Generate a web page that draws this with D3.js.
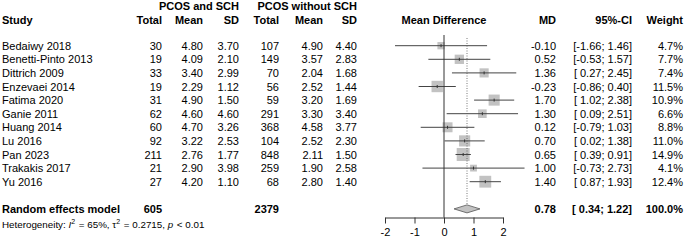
<!DOCTYPE html>
<html>
<head>
<meta charset="utf-8">
<script src="https://cdn.jsdelivr.net/npm/d3@7"></script>
<style>
  body { margin: 0; background: #fff; }
  svg text { font-family: "Liberation Sans", Arial, sans-serif; font-size: 11px; fill: #000; }
</style>
</head>
<body>
<div id="forest"></div>
<script>
const studies = ['Bedaiwy 2018', 'Benetti-Pinto 2013', 'Dittrich 2009', 'Enzevaei 2014', 'Fatima 2020',
  'Ganie 2011', 'Huang 2014', 'Lu 2016', 'Pan 2023', 'Trakakis 2017', 'Yu 2016'];
const totalSch = [30, 19, 33, 19, 31, 62, 60, 92, 211, 21, 27];
const meanSch = [4.80, 4.09, 3.40, 2.29, 4.90, 4.60, 4.70, 3.22, 2.76, 2.90, 4.20];
const sdSch = [3.70, 2.10, 2.99, 1.12, 1.50, 4.60, 3.26, 2.53, 1.77, 3.98, 1.10];
const totalCtl = [107, 149, 70, 56, 59, 291, 368, 104, 848, 259, 68];
const meanCtl = [4.90, 3.57, 2.04, 2.52, 3.20, 3.30, 4.58, 2.52, 2.11, 1.90, 2.80];
const sdCtl = [4.40, 2.83, 1.68, 1.44, 1.69, 3.40, 3.77, 2.30, 1.50, 2.58, 1.40];
const md = [-0.10, 0.52, 1.36, -0.23, 1.70, 1.30, 0.12, 0.70, 0.65, 1.00, 1.40];
const lower = [-1.66, -0.53, 0.27, -0.86, 1.02, 0.09, -0.79, 0.02, 0.39, -0.73, 0.87];
const upper = [1.46, 1.57, 2.45, 0.40, 2.38, 2.51, 1.03, 1.38, 0.91, 2.73, 1.93];
const weight = [4.7, 7.7, 7.4, 11.5, 10.9, 6.6, 8.8, 11.0, 14.9, 4.1, 12.4];

const pooled = { total1: 605, total2: 2379, md: 0.78, lower: 0.34, upper: 1.22, weight: 100.0 };
const xTicks = [-2, -1, 0, 1, 2];

const width = 685, height = 242;

const svg = d3.select('#forest')
  .append('svg')
  .attr('width', width)
  .attr('height', height);

const x = d3.scaleLinear().domain([-2, 2]).range([385, 503]);
const y = d3.scaleLinear().domain([0, 10]).range([45.7, 181.7]);
const side = d3.scaleSqrt().domain([0, 15]).range([0, 13]);

// plain hyphen minus like R output
const f2 = v => v.toFixed(2);
const pad = v => (v >= 0 ? '\u00A0' : '') + f2(v);
const ci = (l, u) => '[' + pad(l) + '; ' + f2(u) + ']';

// column right edges
const cols = { total1: 162, mean1: 203, sd1: 239, total2: 279, mean2: 323, sd2: 357, md: 556, ci: 632, w: 683 };

// headers
const head = svg.append('g');
head.append('text').attr('x', cols.sd1).attr('y', 10).attr('text-anchor', 'end')
  .style('font-weight', 'bold').text('PCOS and SCH');
head.append('text').attr('x', cols.sd2).attr('y', 10).attr('text-anchor', 'end')
  .style('font-weight', 'bold').text('PCOS without SCH');
const h2 = [
  ['Study', 2, 'start'], ['Total', cols.total1, 'end'], ['Mean', cols.mean1, 'end'], ['SD', cols.sd1, 'end'],
  ['Total', cols.total2, 'end'], ['Mean', cols.mean2, 'end'], ['SD', cols.sd2, 'end'],
  ['Mean Difference', x(0), 'middle'], ['MD', cols.md, 'end'], ['95%-CI', cols.ci, 'end'], ['Weight', cols.w, 'end']
];
head.selectAll('text.h2').data(h2).join('text')
  .attr('class', 'h2')
  .attr('x', d => d[1]).attr('y', 23.5)
  .attr('text-anchor', d => d[2])
  .style('font-weight', 'bold')
  .text(d => d[0]);

// study rows
const rows = svg.append('g').selectAll('g').data(studies).join('g')
  .attr('transform', (d, i) => `translate(0,${y(i)})`);

rows.append('text').attr('x', 2).attr('y', 4).text(d => d);
const cell = (key, fn) => rows.append('text').attr('x', cols[key]).attr('y', 4)
  .attr('text-anchor', 'end').text((d, i) => fn(i));
cell('total1', i => totalSch[i]);
cell('mean1', i => f2(meanSch[i]));
cell('sd1', i => f2(sdSch[i]));
cell('total2', i => totalCtl[i]);
cell('mean2', i => f2(meanCtl[i]));
cell('sd2', i => f2(sdCtl[i]));
cell('md', i => f2(md[i]));
cell('ci', i => ci(lower[i], upper[i]));
cell('w', i => weight[i].toFixed(1) + '%');

// reference lines
svg.append('line')
  .attr('x1', x(0)).attr('x2', x(0)).attr('y1', 35).attr('y2', 217.5)
  .attr('stroke', '#333').attr('stroke-width', 1);
svg.append('line')
  .attr('x1', x(pooled.md)).attr('x2', x(pooled.md)).attr('y1', 38).attr('y2', y(12) - 4)
  .attr('stroke', '#555').attr('stroke-width', 0.8).attr('stroke-dasharray', '1,1.5');

// squares and CIs
rows.append('rect')
  .attr('x', (d, i) => x(md[i]) - side(weight[i]) / 2)
  .attr('y', (d, i) => -side(weight[i]) / 2)
  .attr('width', (d, i) => side(weight[i]))
  .attr('height', (d, i) => side(weight[i]))
  .attr('fill', '#c2c2c2');
rows.append('line')
  .attr('x1', (d, i) => x(lower[i])).attr('x2', (d, i) => x(upper[i]))
  .attr('y1', 0).attr('y2', 0)
  .attr('stroke', '#444').attr('stroke-width', 1);
rows.append('line')
  .attr('x1', (d, i) => x(md[i])).attr('x2', (d, i) => x(md[i]))
  .attr('y1', -1.5).attr('y2', 1.5)
  .attr('stroke', '#333').attr('stroke-width', 1);

// pooled row
const py = y(12);
svg.append('path')
  .attr('d', `M${x(pooled.lower)},${py} L${x(pooled.md)},${py - 4} L${x(pooled.upper)},${py} L${x(pooled.md)},${py + 4} Z`)
  .attr('fill', '#c2c2c2').attr('stroke', '#555').attr('stroke-width', 0.8);
const pr = svg.append('g').attr('transform', `translate(0,${py})`);
[
  ['Random effects model', 2, 'start'], [pooled.total1, cols.total1, 'end'], [pooled.total2, cols.total2, 'end'],
  [f2(pooled.md), cols.md, 'end'], [ci(pooled.lower, pooled.upper), cols.ci, 'end'],
  [pooled.weight.toFixed(1) + '%', cols.w, 'end']
].forEach(d => pr.append('text').attr('x', d[1]).attr('y', 4).attr('text-anchor', d[2])
  .style('font-weight', 'bold').text(d[0]));

// heterogeneity
const het = svg.append('text').attr('x', 2).attr('y', 227.5).style('font-size', '9.8px');
het.append('tspan').text('Heterogeneity: ');
het.append('tspan').style('font-style', 'italic').text('I');
het.append('tspan').attr('dy', -4).style('font-size', '7px').text('2');
het.append('tspan').attr('dy', 4).attr('dx', 1).text('\u00A0=\u00A065%, \u03C4');
het.append('tspan').attr('dy', -4).style('font-size', '7px').text('2');
het.append('tspan').attr('dy', 4).attr('dx', 1).text('\u00A0=\u00A00.2715, ');
het.append('tspan').style('font-style', 'italic').text('p');
het.append('tspan').attr('dx', 1).text('\u00A0<\u00A00.01');

// axis
const axis = svg.append('g')
  .attr('transform', 'translate(0,217.5)')
  .call(d3.axisBottom(x).tickValues(xTicks).tickSize(6).tickSizeOuter(0).tickPadding(5).tickFormat(d => String(d)));
axis.selectAll('path, line').attr('stroke', '#333');
axis.selectAll('text').style('font-size', '11px').attr('fill', '#000');
</script>
</body>
</html>
